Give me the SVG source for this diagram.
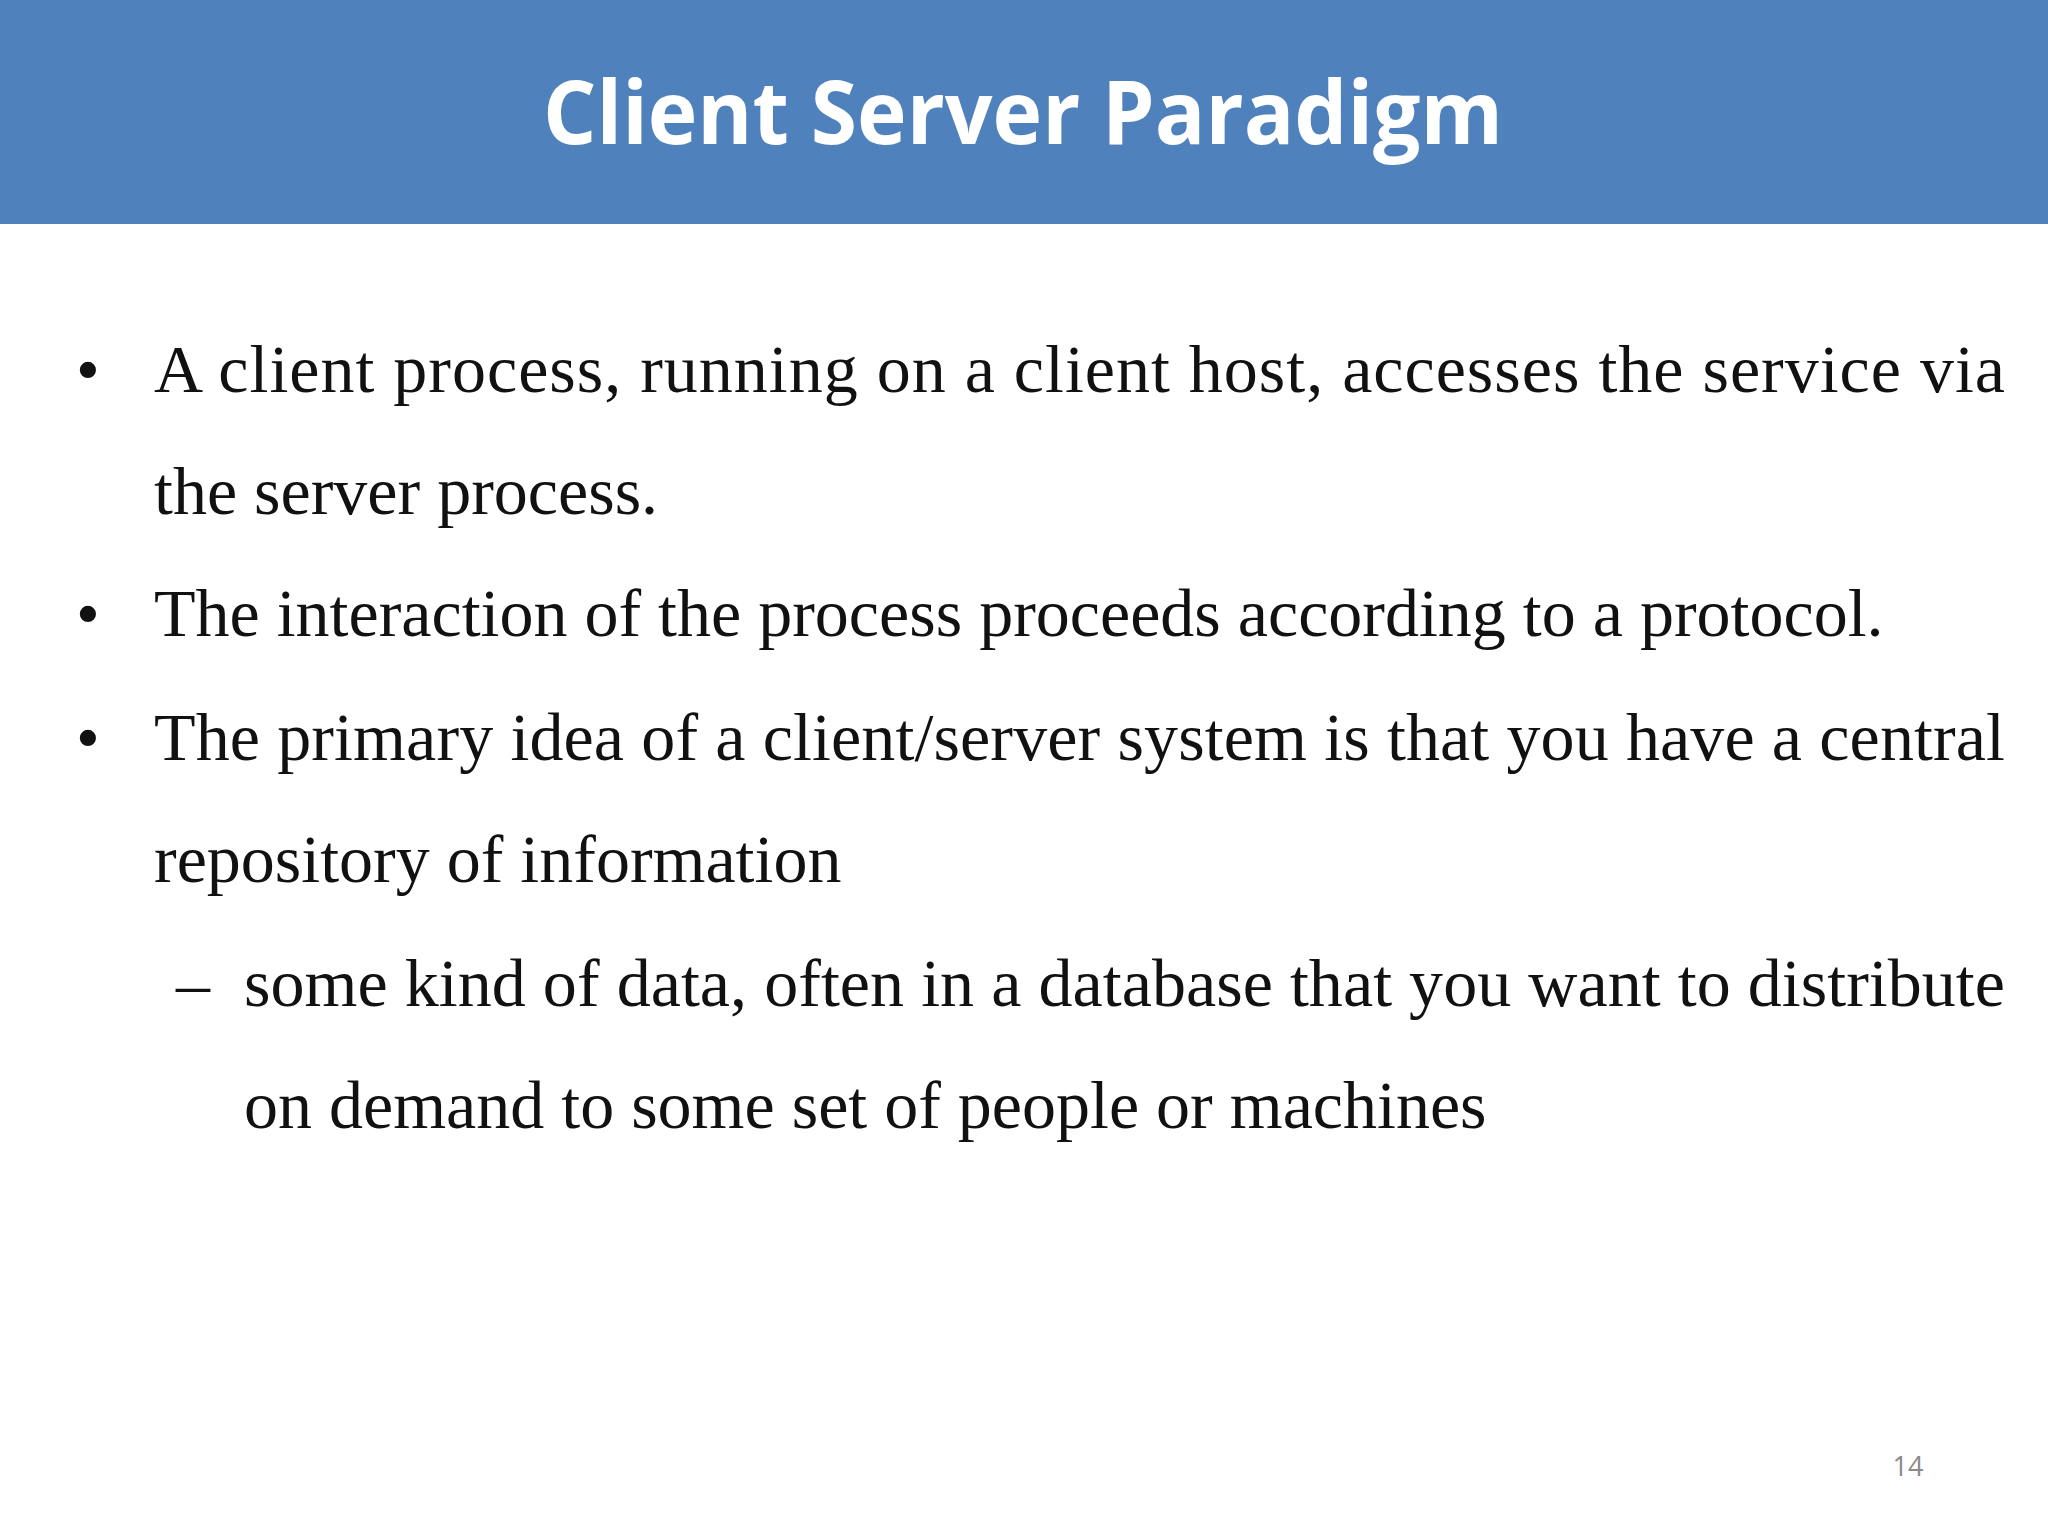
<svg xmlns="http://www.w3.org/2000/svg" width="2048" height="1536" viewBox="0 0 2048 1536">
<style>
.b{font-family:"Liberation Serif","Times New Roman",serif;font-size:68px;fill:#111}
</style>
<rect width="2048" height="1536" fill="#fff"/>
<rect width="2048" height="224" fill="#4F81BD"/>
<text x="1023" y="144" text-anchor="middle" font-family="Open Sans, sans-serif" font-weight="bold" font-size="88" fill="#fff" textLength="960" lengthAdjust="spacingAndGlyphs">Client Server Paradigm</text>
<g id="text">
<text class="b" x="76" y="392">•</text>
<text class="b" x="154" y="392" textLength="1851" lengthAdjust="spacing">A client process, running on a client host, accesses the service via</text>
<text class="b" x="154" y="514">the server process.</text>
<text class="b" x="76" y="636">•</text>
<text class="b" x="154" y="636">The interaction of the process proceeds according to a protocol.</text>
<text class="b" x="76" y="760">•</text>
<text class="b" x="154" y="760" textLength="1851" lengthAdjust="spacing">The primary idea of a client/server system is that you have a central</text>
<text class="b" x="154" y="882">repository of information</text>
<text class="b" x="176" y="1006">–</text>
<text class="b" x="244" y="1006" textLength="1761" lengthAdjust="spacing">some kind of data, often in a database that you want to distribute</text>
<text class="b" x="244" y="1128">on demand to some set of people or machines</text>
</g>
<text x="1908" y="1476" text-anchor="middle" font-family="Open Sans, sans-serif" font-size="27" fill="#8a8a8a">14</text>
</svg>
